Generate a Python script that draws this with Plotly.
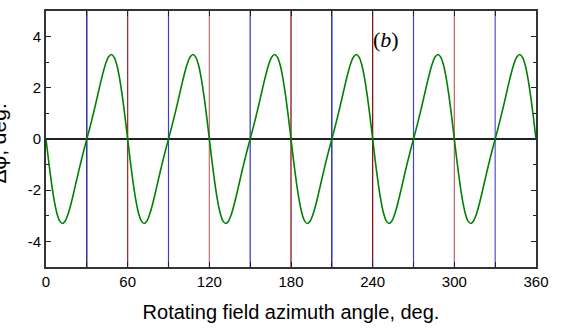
import plotly.graph_objects as go

azimuth = list(range(0, 362, 2))
dphi = [
    0, -0.89, -1.70, -2.39, -2.90, -3.20, -3.30, -3.21, -2.97, -2.61, -2.18, -1.72, -1.26, -0.82, -0.40,
    0, 0.40, 0.82, 1.26, 1.72, 2.18, 2.61, 2.97, 3.21, 3.30, 3.20, 2.90, 2.39, 1.70, 0.89,
    0, -0.89, -1.70, -2.39, -2.90, -3.20, -3.30, -3.21, -2.97, -2.61, -2.18, -1.72, -1.26, -0.82, -0.40,
    0, 0.40, 0.82, 1.26, 1.72, 2.18, 2.61, 2.97, 3.21, 3.30, 3.20, 2.90, 2.39, 1.70, 0.89,
    0, -0.89, -1.70, -2.39, -2.90, -3.20, -3.30, -3.21, -2.97, -2.61, -2.18, -1.72, -1.26, -0.82, -0.40,
    0, 0.40, 0.82, 1.26, 1.72, 2.18, 2.61, 2.97, 3.21, 3.30, 3.20, 2.90, 2.39, 1.70, 0.89,
    0, -0.89, -1.70, -2.39, -2.90, -3.20, -3.30, -3.21, -2.97, -2.61, -2.18, -1.72, -1.26, -0.82, -0.40,
    0, 0.40, 0.82, 1.26, 1.72, 2.18, 2.61, 2.97, 3.21, 3.30, 3.20, 2.90, 2.39, 1.70, 0.89,
    0, -0.89, -1.70, -2.39, -2.90, -3.20, -3.30, -3.21, -2.97, -2.61, -2.18, -1.72, -1.26, -0.82, -0.40,
    0, 0.40, 0.82, 1.26, 1.72, 2.18, 2.61, 2.97, 3.21, 3.30, 3.20, 2.90, 2.39, 1.70, 0.89,
    0, -0.89, -1.70, -2.39, -2.90, -3.20, -3.30, -3.21, -2.97, -2.61, -2.18, -1.72, -1.26, -0.82, -0.40,
    0, 0.40, 0.82, 1.26, 1.72, 2.18, 2.61, 2.97, 3.21, 3.30, 3.20, 2.90, 2.39, 1.70, 0.89,
    0,
]

# Vertical marker lines
marker_x = [30, 60, 90, 120, 150, 180, 210, 240, 270, 300, 330]
marker_colors = ["#000080", "#A02020", "#4040C0", "#C07070", "#3030C0", "#800000",
                 "#0000A0", "#800000", "#4040C0", "#C06060", "#5050D0"]

x_tickvals = [0, 60, 120, 180, 240, 300, 360]
x_ticktext = ["0", "60", "120", "180", "240", "300", "360"]
y_tickvals = [-4, -2, 0, 2, 4]
y_ticktext = ["-4", "-2", "0", "2", "4"]

W, H = 566, 329
L, R, T, B = 46, 30, 9, 61
pw = W - L - R
ph = H - T - B

fig = go.Figure()
fig.add_trace(go.Scatter(x=azimuth, y=dphi, mode="lines",
                         line=dict(color="#008000", width=1.6, shape="spline", smoothing=0.6),
                         showlegend=False, hoverinfo="skip"))

shapes = []
for xv, col in zip(marker_x, marker_colors):
    shapes.append(dict(type="line", xref="x", yref="paper", x0=xv, x1=xv, y0=0, y1=1,
                       line=dict(color=col, width=1.2), layer="below"))

font_main = "Liberation Sans, Arial, sans-serif"

fig.update_layout(
    width=W, height=H,
    margin=dict(l=L, r=R, t=T, b=B),
    paper_bgcolor="white", plot_bgcolor="white",
    shapes=shapes,
    xaxis=dict(range=[0, 360], tickvals=x_tickvals, ticktext=x_ticktext,
               ticks="inside", ticklen=5, tickwidth=1.2, tickcolor="#222",
               minor=dict(dtick=30, tick0=0, ticks="inside", ticklen=5, tickcolor="#222"),
               showline=True, linecolor="#333", linewidth=1.6, mirror="allticks",
               showgrid=False, zeroline=False,
               tickfont=dict(family=font_main, size=15, color="black"),
               title=dict(text="Rotating field azimuth angle, deg.",
                          font=dict(family=font_main, size=20, color="black"), standoff=16)),
    yaxis=dict(range=[-5, 5], tickvals=y_tickvals, ticktext=y_ticktext,
               ticks="inside", ticklen=5, tickwidth=1.2, tickcolor="#222",
               minor=dict(dtick=1, tick0=0, ticks="inside", ticklen=3, tickcolor="#222"),
               showline=True, linecolor="#333", linewidth=1.6, mirror="allticks",
               showgrid=False, zeroline=True, zerolinecolor="#222", zerolinewidth=1.6,
               tickfont=dict(family=font_main, size=15, color="black")),
    annotations=[
        dict(text="Δφ, deg.", textangle=-90, xref="paper", yref="paper",
             x=(-2 - L) / pw, y=1 - (143 - T) / ph, xanchor="center", yanchor="middle",
             showarrow=False, font=dict(family=font_main, size=21, color="black")),
        dict(text="(<i>b</i>)", xref="paper", yref="paper",
             x=(386 - L) / pw, y=1 - (38 - T) / ph, xanchor="center", yanchor="middle",
             showarrow=False, font=dict(family="Liberation Serif, Times New Roman, serif", size=22, color="black")),
    ],
)

fig.write_html("out.html")
